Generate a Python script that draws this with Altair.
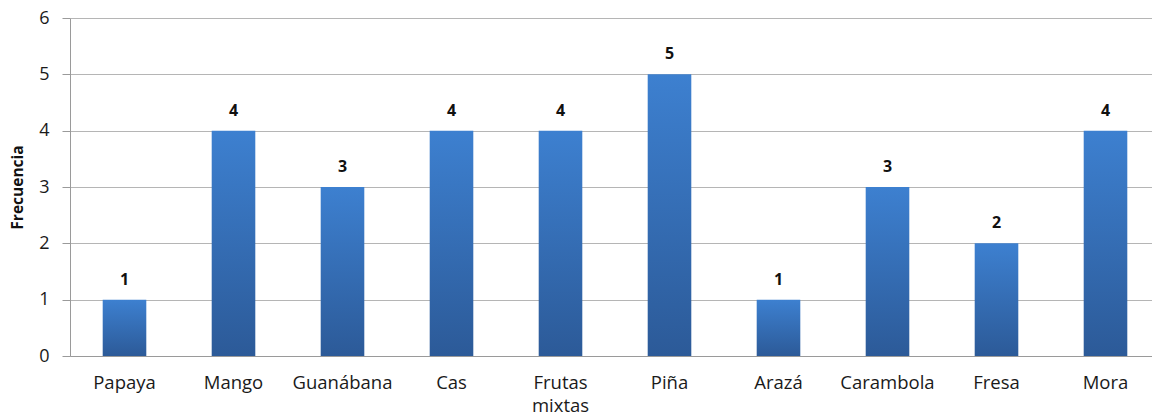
import altair as alt
import pandas as pd

frutas = ["Papaya", "Mango", "Guanábana", "Cas", "Frutas mixtas", "Piña", "Arazá", "Carambola", "Fresa", "Mora"]
frecuencia = [1, 4, 3, 4, 4, 5, 1, 3, 2, 4]

df = pd.DataFrame({"Fruta": frutas, "Frecuencia": frecuencia})

FONT = "Open Sans"
grad = {
    "gradient": "linear", "x1": 0, "y1": 0, "x2": 0, "y2": 1,
    "stops": [{"offset": 0, "color": "#3D80D0"}, {"offset": 1, "color": "#2C5A98"}],
}

x = alt.X("Fruta:N", sort=frutas, title=None,
          scale=alt.Scale(range=[0, 1090], paddingInner=0.6, paddingOuter=0.3),
          axis=alt.Axis(labelAngle=0, labelFont=FONT, labelFontSize=18.5, labelColor="#1a1a1a",
                        labelPadding=17, ticks=False, domainColor="#9A9A9A",
                        labelExpr="split(datum.value, ' ')", labelLineHeight=23))
y = alt.Y("Frecuencia:Q", title="Frecuencia",
          scale=alt.Scale(domain=[0, 6]),
          axis=alt.Axis(values=[0, 1, 2, 3, 4, 5, 6], format="d", labelFont=FONT, labelFontSize=18,
                        labelColor="#1a1a1a", tickColor="#9A9A9A", tickSize=8, labelPadding=13,
                        domainColor="#9A9A9A", gridColor="#B5B5B5",
                        titleFont=FONT, titleFontSize=15.5, titleFontWeight="bold",
                        titleColor="#111", titlePadding=13))

bars = alt.Chart(df).mark_bar(color=grad).encode(x=x, y=y)
labels = alt.Chart(df).mark_text(dy=-15, baseline="alphabetic", font=FONT, fontSize=16,
                                 fontWeight="bold", color="#111").encode(
    x=alt.X("Fruta:N", sort=frutas), y="Frecuencia:Q", text="Frecuencia:Q")

chart = (bars + labels).properties(
    width=1082, height=338,
    autosize=alt.AutoSizeParams(type="none"),
    padding={"left": 70, "top": 18, "right": 0, "bottom": 62},
).configure_view(stroke=None)

chart.save("out.html", embed_options={"renderer": "svg", "actions": False})
